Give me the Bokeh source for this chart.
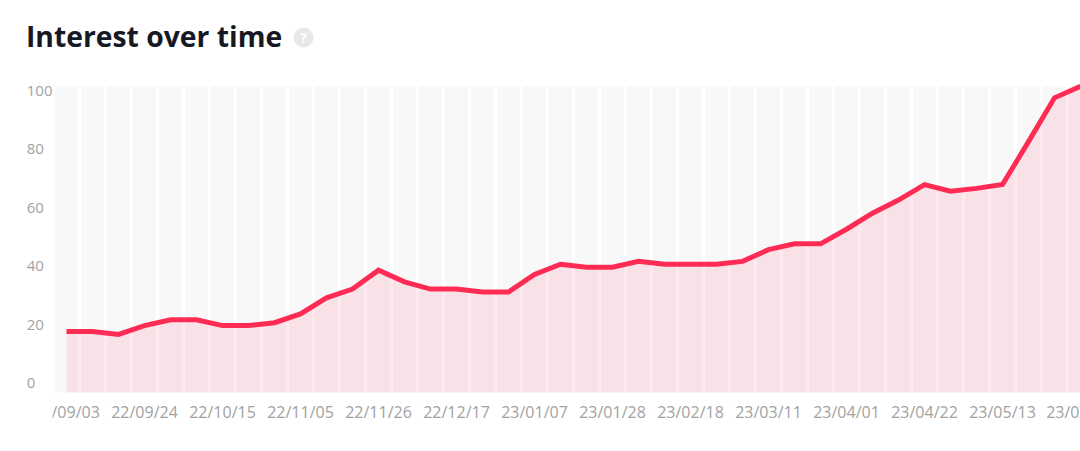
from bokeh.plotting import figure
from bokeh.models import Range1d, FixedTicker, Label, BoxAnnotation, ColumnDataSource
from bokeh.embed import file_html
from bokeh.resources import INLINE

week_index = list(range(40))
interest = [18, 18, 17, 20, 22, 22, 20, 20, 21, 24, 29.5, 32.5, 39, 35, 32.5, 32.5, 31.5, 31.5, 37.5, 41,
            40, 40, 42, 41, 41, 41, 42, 46, 48, 48, 53, 58.5, 63, 68.3, 66, 67, 68.3, 83, 98, 102]
x_ticks = [0, 3, 6, 9, 12, 15, 18, 21, 24, 27, 30, 33, 36, 39]
x_labels = ["22/09/03", "22/09/24", "22/10/15", "22/11/05", "22/11/26", "22/12/17", "23/01/07",
            "23/01/28", "23/02/18", "23/03/11", "23/04/01", "23/04/22", "23/05/13", "23/06/03"]
y_ticks = [0, 20, 40, 60, 80, 100]
y_labels = ["0\u2007\u2007", "20\u2007", "40\u2007", "60\u2007", "80\u2007", "100"]

W, H = 1080, 451
PX_X = 26.0
PX_Y = 2.92
X_START = -66 / PX_X
X_END = X_START + W / PX_X
Y_START = -(H - 383.5) / PX_Y
Y_END = Y_START + H / PX_Y
BAND_LO, BAND_HI = -2.9, 102
AXIS_X = X_START + 55 / PX_X
LABEL_SHIFT = 2 / PX_Y
FONT = "Open Sans"
TICK = "#a2a2a2"

p = figure(width=W, height=H, output_backend="svg", toolbar_location=None,
           x_range=Range1d(X_START, X_END), y_range=Range1d(Y_START, Y_END),
           min_border_left=0, min_border_right=0, min_border_top=0, min_border_bottom=0)
p.extra_y_ranges = {"ticks": Range1d(Y_START - LABEL_SHIFT, Y_END - LABEL_SHIFT)}
p.outline_line_color = None
p.grid.visible = False
p.background_fill_color = "white"
p.border_fill_color = "white"

src = ColumnDataSource(dict(x=week_index, y=interest,
                            lo=[BAND_LO] * len(week_index), hi=[BAND_HI] * len(week_index)))
p.vbar(x="x", bottom="lo", top="hi", width=0.87, source=src,
       fill_color="#f8f8f8", line_color=None)
p.varea(x="x", y1="lo", y2="y", source=src, fill_color="#fe2c55", fill_alpha=0.1)
p.line(x="x", y="y", source=src, line_color="#fe2c55", line_width=5, line_join="miter")

# help icon beside the title
p.scatter(x=[X_START + 303 / PX_X], y=[Y_START + (H - 37) / PX_Y], size=20, marker="circle",
          fill_color="#e8e8e8", line_color=None)

xa = p.xaxis[0]
xa.ticker = FixedTicker(ticks=x_ticks[:-1])
xa.fixed_location = BAND_LO
xa.major_label_overrides = dict(zip(x_ticks, x_labels))
xa.axis_line_color = None
xa.major_tick_line_color = None
xa.minor_tick_line_color = None
xa.major_tick_out = 0
xa.major_label_standoff = 9
xa.major_label_text_font = FONT
xa.major_label_text_font_size = "16px"
xa.major_label_text_color = TICK

ya = p.yaxis[0]
ya.ticker = FixedTicker(ticks=y_ticks)
ya.y_range_name = "ticks"
ya.fixed_location = AXIS_X
ya.major_label_overrides = dict(zip(y_ticks, y_labels))
ya.axis_line_color = None
ya.major_tick_line_color = None
ya.minor_tick_line_color = None
ya.major_tick_out = 0
ya.major_label_standoff = 3
ya.major_label_text_font = FONT
ya.major_label_text_font_size = "15px"
ya.major_label_text_color = TICK

# the last date runs off the right edge, where the axis would push it back inside
p.add_layout(Label(x=x_ticks[-1], y=BAND_LO, x_offset=-1, y_offset=-9, text=x_labels[-1], text_align="center",
                   text_baseline="top", text_font=FONT, text_font_size="16px", text_color=TICK))
p.add_layout(Label(x=25.5, y=H - 35, x_units="screen", y_units="screen", text="Interest over time",
                   text_font=FONT, text_font_size="28.3px", text_font_style="bold",
                   text_color="#161823", text_baseline="alphabetic"))
p.add_layout(Label(x=303, y=H - 37, x_units="screen", y_units="screen", text="?",
                   text_font=FONT, text_font_size="14px", text_font_style="bold", text_color="white",
                   text_align="center", text_baseline="middle"))
p.add_layout(BoxAnnotation(left=20, right=52, top=H - 398, bottom=H - 428, left_units="screen",
                           right_units="screen", top_units="screen", bottom_units="screen",
                           fill_color="white", fill_alpha=1, line_color=None, level="overlay"))

open("out.html", "w").write(file_html(p, INLINE))
